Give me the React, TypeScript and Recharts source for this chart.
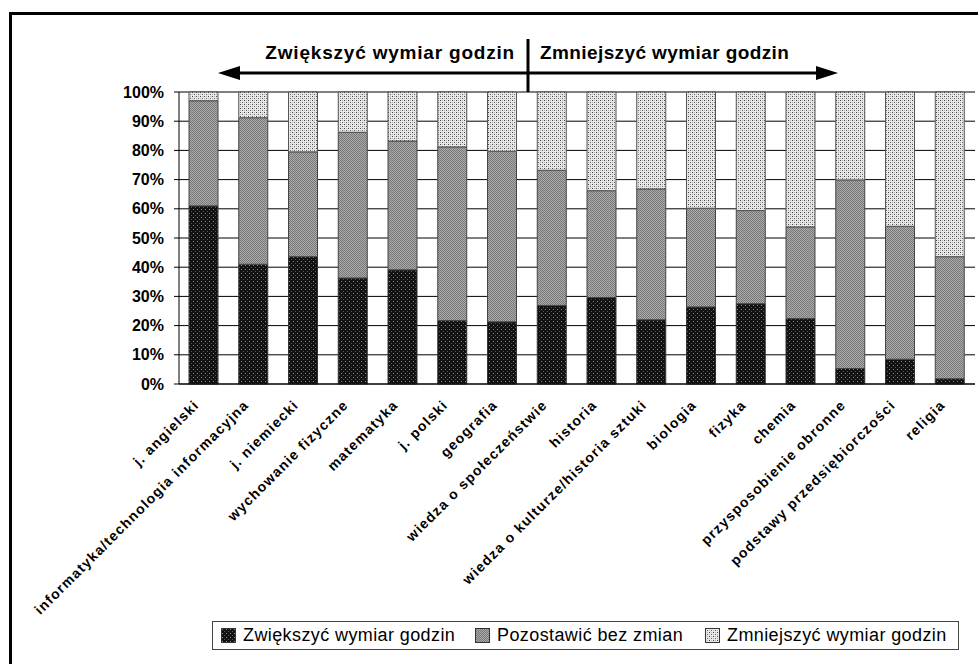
import React from 'react';
import { BarChart, Bar, XAxis, YAxis, CartesianGrid } from 'recharts';

const subjects = [
  'j. angielski',
  'informatyka/technologia informacyjna',
  'j. niemiecki',
  'wychowanie fizyczne',
  'matematyka',
  'j. polski',
  'geografia',
  'wiedza o społeczeństwie',
  'historia',
  'wiedza o kulturze/historia sztuki',
  'biologia',
  'fizyka',
  'chemia',
  'przysposobienie obronne',
  'podstawy przedsiębiorczości',
  'religia',
];

const increase = [61, 41, 43.6, 36.3, 39.1, 21.7, 21.3, 26.9, 29.6, 22, 26.4, 27.5, 22.4, 5.3, 8.5, 1.8];
const keep = [36, 50.2, 35.9, 49.9, 44.1, 59.5, 58.4, 46.3, 36.6, 44.8, 33.8, 31.9, 31.4, 64.6, 45.5, 41.8];
const decrease = [3, 8.8, 20.5, 13.8, 16.8, 18.8, 20.3, 26.8, 33.8, 33.2, 39.8, 40.6, 46.2, 30.1, 46, 56.4];

const yTicks = [0, 10, 20, 30, 40, 50, 60, 70, 80, 90, 100];
const boundaryTicks = [0, 1, 2, 3, 4, 5, 6, 7, 8, 9, 10, 11, 12, 13, 14, 15, 16];

const seriesNames = ['Zwiększyć wymiar godzin', 'Pozostawić bez zmian', 'Zmniejszyć wymiar godzin'];
const seriesFills = ['url(#pBlack)', 'url(#pGray)', 'url(#pLight)'];
const legendLefts = [8, 262, 492];

const data = subjects.map((name, i) => ({
  name,
  increase: increase[i],
  keep: keep[i],
  decrease: decrease[i],
}));

const font = '"Liberation Sans", Arial, sans-serif';

function SubjectTick(props: any) {
  const { x, y, payload } = props;
  return (
    <g transform={`translate(${x - 4},${y + 14})`}>
      <text
        textAnchor="end"
        transform="rotate(-45)"
        fontSize={14}
        letterSpacing={1.2}
        fontWeight="bold"
        fontFamily={font}
        fill="#000"
      >
        {payload.value}
      </text>
    </g>
  );
}

function Patterns() {
  return (
    <svg width={0} height={0} style={{ position: 'absolute' }}>
      <defs>
        <pattern id="pBlack" width="4" height="4" patternUnits="userSpaceOnUse">
          <rect width="4" height="4" fill="#121212" />
          <rect x="1" y="1" width="1" height="1" fill="#8a8a8a" />
          <rect x="3" y="3" width="1" height="1" fill="#555" />
        </pattern>
        <pattern id="pGray" width="2" height="2" patternUnits="userSpaceOnUse">
          <rect width="2" height="2" fill="#ababab" />
          <rect x="0" y="0" width="1" height="1" fill="#787878" />
          <rect x="1" y="1" width="1" height="1" fill="#787878" />
        </pattern>
        <pattern id="pLight" width="4" height="4" patternUnits="userSpaceOnUse">
          <rect width="4" height="4" fill="#e8e8e8" />
          <rect x="0" y="0" width="1" height="1" fill="#444" />
          <rect x="2" y="2" width="1" height="1" fill="#666" />
          <rect x="2" y="0" width="1" height="1" fill="#b5b5b5" />
          <rect x="0" y="2" width="1" height="1" fill="#b5b5b5" />
        </pattern>
      </defs>
    </svg>
  );
}

export default function App() {
  return (
    <div
      style={{
        position: 'absolute',
        left: 0,
        top: 0,
        width: 978,
        height: 664,
        overflow: 'hidden',
        background: '#fff',
        fontFamily: font,
      }}
    >
      <Patterns />
      <div
        style={{
          position: 'absolute',
          left: 9,
          top: 12,
          width: 1100,
          height: 1100,
          border: '3px solid #000',
        }}
      />
      <BarChart
        width={978}
        height={664}
        data={data}
        margin={{ top: 92, right: 3, left: 119, bottom: 80 }}
        barSize={29}
        style={{ position: 'absolute', left: 0, top: 0 }}
      >
        <CartesianGrid vertical={false} stroke="#000" strokeOpacity={1} />
        <XAxis
          xAxisId="bounds"
          type="number"
          domain={[0, 16]}
          ticks={boundaryTicks}
          tick={false}
          tickSize={5}
          tickLine={{ stroke: '#000' }}
          axisLine={false}
          height={0}
          allowDataOverflow
        />
        <XAxis
          dataKey="name"
          interval={0}
          height={200}
          tickLine={false}
          axisLine={{ stroke: '#000' }}
          tick={<SubjectTick />}
        />
        <YAxis
          domain={[0, 100]}
          ticks={yTicks}
          width={60}
          tickSize={5}
          tickMargin={10}
          tickLine={{ stroke: '#000' }}
          axisLine={{ stroke: '#000' }}
          tickFormatter={(v) => `${v}%`}
          tick={{ fill: '#000', fontSize: 16, fontWeight: 'bold', fontFamily: font }}
        />
        <YAxis
          yAxisId="right"
          orientation="right"
          domain={[0, 100]}
          width={0}
          tick={false}
          tickLine={false}
          axisLine={{ stroke: '#000' }}
        />
        <Bar dataKey="increase" name={seriesNames[0]} stackId="a" fill={seriesFills[0]} stroke="#333" strokeWidth={1} isAnimationActive={false} />
        <Bar dataKey="keep" name={seriesNames[1]} stackId="a" fill={seriesFills[1]} stroke="#444" strokeWidth={1} isAnimationActive={false} />
        <Bar dataKey="decrease" name={seriesNames[2]} stackId="a" fill={seriesFills[2]} stroke="#555" strokeWidth={1} isAnimationActive={false} />
      </BarChart>

      {/* direction annotation above the plot */}
      <svg width={978} height={100} style={{ position: 'absolute', left: 0, top: 0, pointerEvents: 'none' }}>
        <line x1={236} y1={73} x2={820} y2={73} stroke="#000" strokeWidth={3} />
        <polygon points="218,73 240,66 240,80" fill="#000" />
        <polygon points="838,73 816,66 816,80" fill="#000" />
        <line x1={528} y1={39} x2={528} y2={92} stroke="#000" strokeWidth={3} />
        <text x={515} y={59} textAnchor="end" fontSize={19} letterSpacing={0.8} fontWeight="bold" fontFamily={font} fill="#000">
          Zwiększyć wymiar godzin
        </text>
        <text x={540} y={59} textAnchor="start" fontSize={19} letterSpacing={0.4} fontWeight="bold" fontFamily={font} fill="#000">
          Zmniejszyć wymiar godzin
        </text>
      </svg>

      {/* legend */}
      <div
        style={{
          position: 'absolute',
          left: 212,
          top: 621,
          width: 747,
          height: 29,
          boxSizing: 'border-box',
          border: '1px solid #444',
          fontSize: 18,
          letterSpacing: 0.4,
          color: '#000',
        }}
      >
        {seriesNames.map((n, i) => (
          <div
            key={n}
            style={{
              position: 'absolute',
              left: legendLefts[i],
              top: 0,
              height: 27,
              display: 'flex',
              alignItems: 'center',
              whiteSpace: 'nowrap',
            }}
          >
            <svg width={15} height={15} style={{ marginRight: 7 }}>
              <rect x={0.5} y={0.5} width={14} height={14} fill={seriesFills[i]} stroke="#333" />
            </svg>
            <span>{n}</span>
          </div>
        ))}
      </div>
    </div>
  );
}
